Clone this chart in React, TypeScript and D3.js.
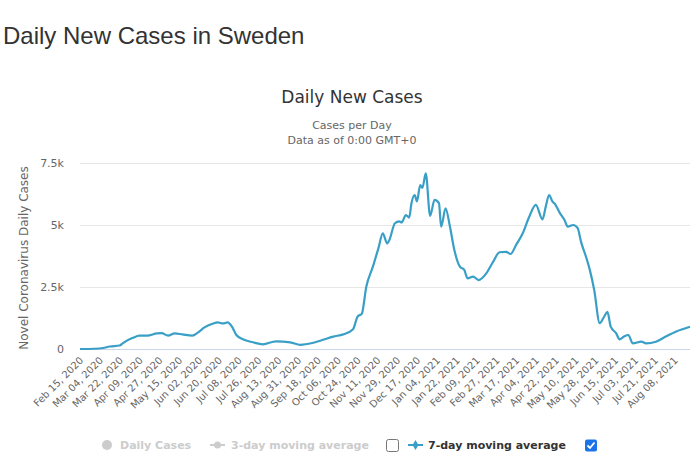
import React, { useEffect, useRef } from 'react';
import * as d3 from 'd3';

// 7-day moving average of new cases, read at irregular dates
const sampleDates = [
  '2020-02-15', '2020-02-28', '2020-03-07', '2020-03-13', '2020-03-22', '2020-03-25',
  '2020-04-03', '2020-04-09', '2020-04-16', '2020-04-25', '2020-04-29', '2020-05-05',
  '2020-05-11', '2020-05-18', '2020-05-27', '2020-06-01', '2020-06-07', '2020-06-15',
  '2020-06-19', '2020-06-24', '2020-06-28', '2020-07-02', '2020-07-06', '2020-07-12',
  '2020-07-21', '2020-07-30', '2020-08-11', '2020-08-24', '2020-09-02', '2020-09-13',
  '2020-09-22', '2020-10-02', '2020-10-11', '2020-10-20', '2020-10-24', '2020-10-28',
  '2020-11-01', '2020-11-07', '2020-11-12', '2020-11-16', '2020-11-20', '2020-11-22',
  '2020-11-27', '2020-12-01', '2020-12-03', '2020-12-07', '2020-12-10', '2020-12-12',
  '2020-12-15', '2020-12-17', '2020-12-20', '2020-12-22', '2020-12-25', '2020-12-29',
  '2021-01-02', '2021-01-06', '2021-01-08', '2021-01-12', '2021-01-16', '2021-01-20',
  '2021-01-25', '2021-01-29', '2021-02-01', '2021-02-06', '2021-02-11', '2021-02-18',
  '2021-02-24', '2021-03-02', '2021-03-08', '2021-03-12', '2021-03-17', '2021-03-23',
  '2021-03-29', '2021-04-04', '2021-04-10', '2021-04-13', '2021-04-16', '2021-04-19',
  '2021-04-21', '2021-04-26', '2021-04-30', '2021-05-03', '2021-05-08', '2021-05-12',
  '2021-05-15', '2021-05-20', '2021-05-23', '2021-05-27', '2021-06-01', '2021-06-05',
  '2021-06-08', '2021-06-11', '2021-06-16', '2021-06-19', '2021-06-23', '2021-06-27',
  '2021-07-01', '2021-07-09', '2021-07-13', '2021-07-22', '2021-07-31', '2021-08-09',
  '2021-08-22',
];

const sevenDayAvg = [
  0, 10, 40, 100, 140, 240,
  450, 540, 540, 630, 640, 540,
  630, 590, 540, 660, 870, 1030,
  1070, 1030, 1070, 900, 565, 390,
  270, 190, 310, 270, 170, 240,
  360, 500, 590, 800, 1300, 1430,
  2510, 3320, 4060, 4660, 4260, 4400,
  5070, 5150, 5100, 5400, 5300, 5870,
  6210, 5950, 6610, 6500, 7080, 5370,
  6010, 5880, 4930, 5670, 4930, 3990,
  3320, 3190, 2850, 2920, 2780, 3050,
  3500, 3900, 3920, 3830, 4190, 4660,
  5330, 5810, 5230, 5740, 6210, 5950,
  5870, 5470, 5200, 4930, 5000, 4870,
  4330, 3660, 3190, 2380, 1040, 1300,
  1500, 900, 630, 390, 500, 565,
  230, 295, 230, 295, 500, 700,
  900,
];

const xTickLabels = [
  'Feb 15, 2020', 'Mar 04, 2020', 'Mar 22, 2020', 'Apr 09, 2020', 'Apr 27, 2020',
  'May 15, 2020', 'Jun 02, 2020', 'Jun 20, 2020', 'Jul 08, 2020', 'Jul 26, 2020',
  'Aug 13, 2020', 'Aug 31, 2020', 'Sep 18, 2020', 'Oct 06, 2020', 'Oct 24, 2020',
  'Nov 11, 2020', 'Nov 29, 2020', 'Dec 17, 2020', 'Jan 04, 2021', 'Jan 22, 2021',
  'Feb 09, 2021', 'Feb 27, 2021', 'Mar 17, 2021', 'Apr 04, 2021', 'Apr 22, 2021',
  'May 10, 2021', 'May 28, 2021', 'Jun 15, 2021', 'Jul 03, 2021', 'Jul 21, 2021',
  'Aug 08, 2021',
];

const yTicks = [0, 2500, 5000, 7500];
const yTickLabels = ['0', '2.5k', '5k', '7.5k'];

const App = () => {
  const svgRef = useRef<SVGSVGElement | null>(null);

  useEffect(() => {
    if (!svgRef.current) return;
    document.body.style.margin = '0';

    const svg = d3.select(svgRef.current);
    svg.selectAll('*').remove();

    const width = 700;
    const height = 466;
    const plot = { left: 80, right: 690, top: 163, bottom: 349 };
    const lineColor = '#3a9fc6';
    const font = '"DejaVu Sans", Verdana, sans-serif';

    const parseDay = d3.timeParse('%Y-%m-%d');
    const parseTick = d3.timeParse('%b %d, %Y');
    const points = sampleDates.map((d, i) => ({ date: parseDay(d) as Date, value: sevenDayAvg[i] }));

    const x = d3.scaleTime()
      .domain([parseDay('2020-02-15') as Date, parseDay('2021-08-22') as Date])
      .range([plot.left, plot.right]);

    const y = d3.scaleLinear()
      .domain([0, 7500])
      .range([plot.bottom, plot.top]);

    svg.attr('width', width).attr('height', height);

    svg.append('rect')
      .attr('width', width)
      .attr('height', height)
      .attr('fill', '#fff');

    // Page heading
    svg.append('text')
      .attr('x', 3)
      .attr('y', 44)
      .attr('font-family', '"Liberation Sans", Arial, sans-serif')
      .attr('font-size', '24px')
      .attr('fill', '#333')
      .text('Daily New Cases in Sweden');

    // Chart title and subtitle
    svg.append('text')
      .attr('x', 352)
      .attr('y', 103)
      .attr('text-anchor', 'middle')
      .attr('font-family', font)
      .attr('font-size', '17px')
      .attr('fill', '#333')
      .text('Daily New Cases');

    svg.append('text')
      .attr('x', 352)
      .attr('y', 129)
      .attr('text-anchor', 'middle')
      .attr('font-family', font)
      .attr('font-size', '11px')
      .attr('fill', '#666')
      .text('Cases per Day');

    svg.append('text')
      .attr('x', 352)
      .attr('y', 144)
      .attr('text-anchor', 'middle')
      .attr('font-family', font)
      .attr('font-size', '11px')
      .attr('fill', '#666')
      .text('Data as of 0:00 GMT+0');

    // Horizontal grid lines and y labels
    const yAxis = d3.axisLeft(y)
      .tickValues(yTicks)
      .tickSize(-(plot.right - plot.left))
      .tickPadding(16)
      .tickFormat((d, i) => yTickLabels[i]);

    const yg = svg.append('g')
      .attr('transform', `translate(${plot.left},0)`)
      .call(yAxis as any);
    yg.select('.domain').remove();
    yg.selectAll('.tick line').attr('stroke', '#e6e6e6');
    yg.selectAll('.tick text')
      .attr('font-family', font)
      .attr('font-size', '11px')
      .attr('fill', '#666');

    svg.append('text')
      .attr('transform', `translate(28,${(plot.top + plot.bottom) / 2 + 2}) rotate(-90)`)
      .attr('text-anchor', 'middle')
      .attr('font-family', font)
      .attr('font-size', '12px')
      .attr('fill', '#666')
      .text('Novel Coronavirus Daily Cases');

    // X axis line and rotated date labels
    svg.append('line')
      .attr('x1', plot.left)
      .attr('x2', plot.right)
      .attr('y1', plot.bottom + 0.5)
      .attr('y2', plot.bottom + 0.5)
      .attr('stroke', '#ccd6eb');

    svg.append('g')
      .selectAll('text')
      .data(xTickLabels)
      .enter()
      .append('text')
      .attr('transform', d => `translate(${x(parseTick(d) as Date) + 4},${plot.bottom + 12}) rotate(-45)`)
      .attr('text-anchor', 'end')
      .attr('font-family', font)
      .attr('font-size', '10px')
      .attr('fill', '#666')
      .text(d => d);

    // Moving average line
    const line = d3.line<{ date: Date; value: number }>()
      .x(d => x(d.date))
      .y(d => y(d.value))
      .curve(d3.curveMonotoneX);

    svg.append('path')
      .datum(points)
      .attr('fill', 'none')
      .attr('stroke', lineColor)
      .attr('stroke-width', 2.2)
      .attr('stroke-linejoin', 'round')
      .attr('d', line);

    // Legend
    const legendY = 445;
    const legend = svg.append('g')
      .attr('font-family', font)
      .attr('font-size', '11px')
      .attr('font-weight', 'bold');

    legend.append('circle')
      .attr('cx', 107)
      .attr('cy', legendY)
      .attr('r', 5)
      .attr('fill', '#ccc');
    legend.append('text')
      .attr('x', 120)
      .attr('y', legendY + 4)
      .attr('fill', '#ccc')
      .text('Daily Cases');

    legend.append('line')
      .attr('x1', 210).attr('x2', 225)
      .attr('y1', legendY).attr('y2', legendY)
      .attr('stroke', '#ccc')
      .attr('stroke-width', 2);
    legend.append('circle')
      .attr('cx', 217.5)
      .attr('cy', legendY)
      .attr('r', 3.5)
      .attr('fill', '#ccc');
    legend.append('text')
      .attr('x', 231)
      .attr('y', legendY + 4)
      .attr('fill', '#ccc')
      .text('3-day moving average');

    legend.append('rect')
      .attr('x', 386.5).attr('y', legendY - 5.5)
      .attr('width', 12).attr('height', 12)
      .attr('rx', 2)
      .attr('fill', '#fff')
      .attr('stroke', '#767676');

    legend.append('line')
      .attr('x1', 408).attr('x2', 423)
      .attr('y1', legendY).attr('y2', legendY)
      .attr('stroke', lineColor)
      .attr('stroke-width', 2);
    legend.append('path')
      .attr('d', d3.symbol(d3.symbolDiamond, 30)())
      .attr('transform', `translate(415.5,${legendY})`)
      .attr('fill', lineColor);
    legend.append('text')
      .attr('x', 428)
      .attr('y', legendY + 4)
      .attr('fill', '#333')
      .text('7-day moving average');

    legend.append('rect')
      .attr('x', 585).attr('y', legendY - 5.5)
      .attr('width', 12).attr('height', 12)
      .attr('rx', 2)
      .attr('fill', '#1a73e8');
    legend.append('path')
      .attr('d', `M${587.5},${legendY + 0.5} L${590},${legendY + 3} L${594.5},${legendY - 2.5}`)
      .attr('fill', 'none')
      .attr('stroke', '#fff')
      .attr('stroke-width', 1.8);
  }, []);

  return <svg ref={svgRef} width={700} height={466} style={{ display: 'block' }} />;
};

export default App;
